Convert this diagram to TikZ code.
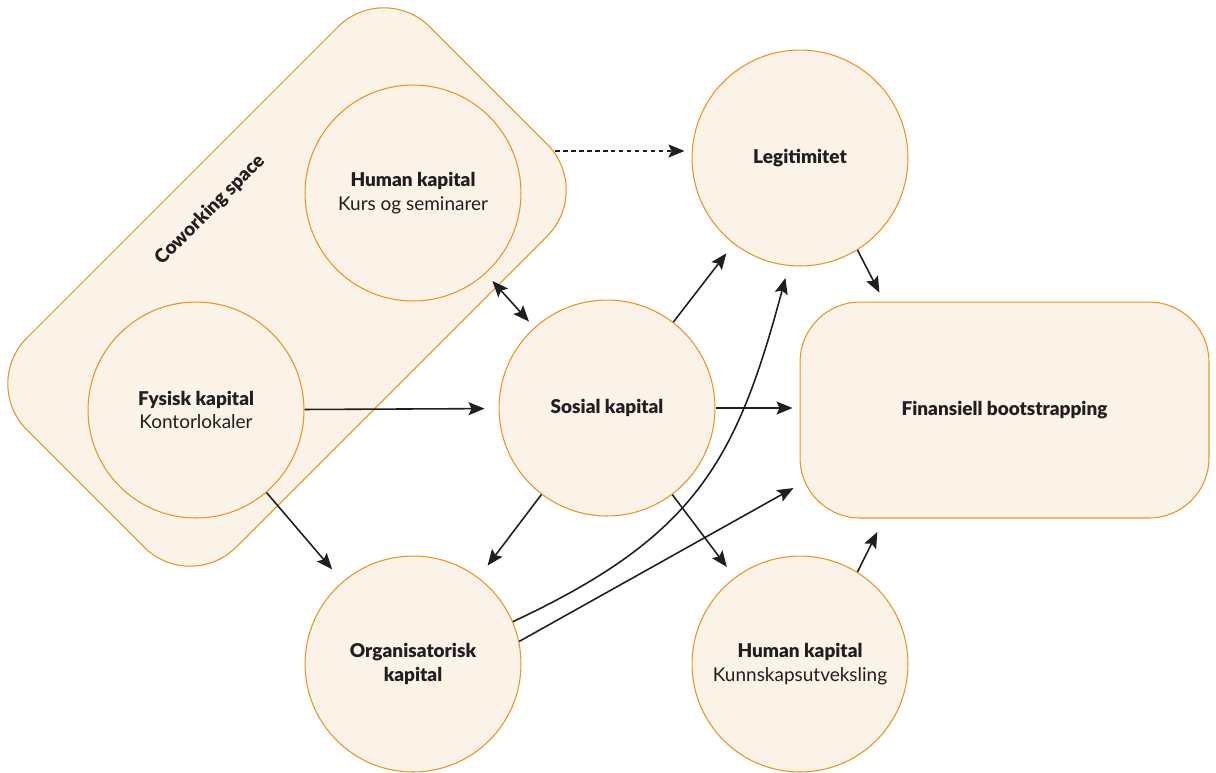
\documentclass[tikz,border=0pt]{standalone}
\usepackage{fontspec}
\setmainfont{Lato}[BoldFont={Lato Black}]
\usetikzlibrary{arrows.meta}
\definecolor{kant}{HTML}{E8951F}
\definecolor{bunn}{HTML}{FBF2E8}
\definecolor{svart}{HTML}{1F1F1F}

\tikzset{
  tupp/.tip={Stealth[length=3.2mm,width=2.6mm,inset=0.6mm]},
  boble/.style={circle,draw=kant,fill=bunn,line width=0.6pt,minimum size=4.32cm,
    align=center,text=svart,font=\fontsize{10.8}{13.5}\selectfont},
  pil/.style={draw=svart,line width=0.9pt,-tupp},
  dobbel/.style={tupp-tupp},
}

\begin{document}
\begin{tikzpicture}[x=0.02cm,y=-0.02cm]
    \useasboundingbox (0,0) rectangle (1216,772);
    % coworking space
    \node[draw=kant,fill=bunn,line width=0.6pt,rounded corners=1.3cm,
      minimum width=11.4cm,minimum height=5.92cm,rotate=45] (cowork) at (287,287) {};
    \node[rotate=45,text=svart,font=\fontsize{10.8}{13.5}\selectfont\bfseries] (cwtekst) at (210,210) {Coworking space};

    \node[boble] (hum1) at (413,193) {\textbf{Human kapital}\\Kurs og seminarer};
    \node[boble] (fysisk) at (196,410) {\textbf{Fysisk kapital}\\Kontorlokaler};
    \node[boble] (sosial) at (607,408) {\textbf{Sosial kapital}};
    \node[boble] (legit) at (800,158) {\textbf{Legitimitet}};
    \node[boble] (org) at (413,664) {\textbf{Organisatorisk}\\\textbf{kapital}};
    \node[boble] (hum2) at (800,664) {\textbf{Human kapital}\\Kunnskapsutveksling};
    \node[boble,rectangle,rounded corners=1.2cm,minimum width=8.18cm,minimum height=4.32cm] (fin) at (1004.5,410) {\textbf{Finansiell bootstrapping}};

    % piler
    \coordinate (dashstart) at (555,151);
    \draw[pil,dash pattern=on 0.09cm off 0.07cm,shorten >=0.14cm] (dashstart) -- (dashstart -| legit.west);
    \draw[pil,dobbel,shorten <=0.2cm,shorten >=0.16cm] (hum1) -- (sosial);
    \draw[pil,shorten >=0.28cm] (fysisk) -- (sosial);
    \draw[pil,shorten >=0.32cm] (fysisk) -- (org);
    \draw[pil,shorten >=0.24cm] (sosial) -- (legit);
    \draw[pil,shorten >=0.14cm] (sosial) -- (sosial -| fin.west);
    \draw[pil,shorten >=0.3cm] (sosial) -- (org);
    \draw[pil,shorten >=0.26cm] (sosial) -- (hum2);
    \draw[pil,shorten >=0.2cm] (legit.-58) -- (fin.138);
    \draw[pil,shorten >=0.3cm] (hum2.58) -- (fin.-138);
    \draw[pil,shorten >=0.14cm] (org.12) -- (fin.200);
    \draw[pil,shorten >=0.25cm] (org.23) to[out=25,in=-105,looseness=1.15] (legit.-96);
  \end{tikzpicture}
\end{document}
